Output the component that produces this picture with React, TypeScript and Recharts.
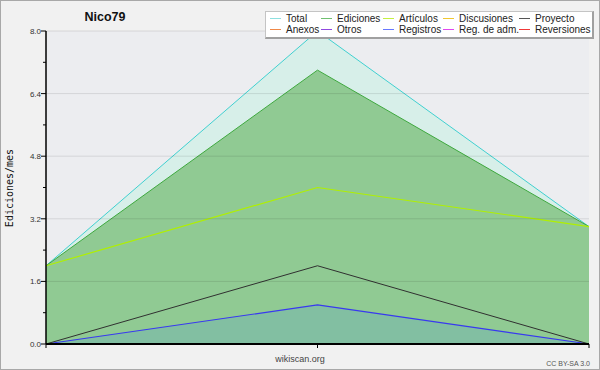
import React from 'react';
import {
  ComposedChart,
  Area,
  Line,
  XAxis,
  YAxis,
  CartesianGrid,
  ReferenceLine,
} from 'recharts';

// three monthly points, month labels are not shown on the chart
const months = ['Mes 1', 'Mes 2', 'Mes 3'];
const total = [2, 8, 3];
const ediciones = [2, 7, 3];
const articulos = [2, 4, 3];
const proyecto = [0, 2, 0];
const registros = [0, 1, 0];

const yTicks = [0, 0.8, 1.6, 2.4, 3.2, 4.0, 4.8, 5.6, 6.4, 7.2, 8.0];
const yMajor = [0, 1.6, 3.2, 4.8, 6.4, 8.0];

const legendNames = [
  'Total', 'Ediciones', 'Artículos', 'Discusiones', 'Proyecto',
  'Anexos', 'Otros', 'Registros', 'Reg. de adm.', 'Reversiones',
];
const legendColors = [
  '#8ee0e0', '#70c070', '#c4f040', '#f0c830', '#555555',
  '#f08848', '#9048e0', '#6878ff', '#e048f0', '#f03838',
];

const data = months.map((m, i) => ({
  month: m,
  total: total[i],
  ediciones: ediciones[i],
  articulos: articulos[i],
  proyecto: proyecto[i],
  registros: registros[i],
}));

const FONT = '"Liberation Sans", Arial, sans-serif';

const YTick = ({ x, y, payload }: any) => {
  const major = yMajor.some((v) => Math.abs(v - payload.value) < 1e-6);
  return (
    <g>
      <line x1={x - (major ? 5 : 3)} x2={x} y1={y} y2={y} stroke="#000" />
      {major && (
        <text x={x - 5} y={y + 3} textAnchor="end" fontSize={8} fill="#333" fontFamily={FONT}>
          {payload.value.toFixed(1)}
        </text>
      )}
    </g>
  );
};

const colLeft = [4, 55, 117, 177, 253];

export default function App() {
  return (
    <div style={{ position: 'absolute', left: 0, top: 0, width: 600, height: 370, background: '#f1f1f1' }}>
      <ComposedChart
        width={600}
        height={370}
        data={data}
        margin={{ top: 31, right: 11, bottom: 0, left: 0 }}
      >
        <CartesianGrid fill="#ecedf0" stroke="none" horizontal={false} vertical={false} />
        <XAxis
          dataKey="month"
          scale="point"
          height={26}
          axisLine={{ stroke: '#000', strokeWidth: 2 }}
          tickLine={{ stroke: '#000' }}
          tickSize={4}
          tick={() => <g />}
          interval={0}
        />
        <YAxis
          width={46}
          domain={[0, 8]}
          ticks={yTicks}
          interval={0}
          tickSize={0}
          tickMargin={0}
          tickLine={false}
          axisLine={{ stroke: '#000', strokeWidth: 1.5 }}
          tick={<YTick />}
        />
        <Area
          dataKey="total"
          type="linear"
          stroke="#40d0d0"
          fill="#d7efe9"
          fillOpacity={1}
          strokeWidth={1}
          isAnimationActive={false}
        />
        <Area
          dataKey="ediciones"
          type="linear"
          stroke="#3ea83e"
          fill="#90ca93"
          fillOpacity={1}
          strokeWidth={1}
          isAnimationActive={false}
        />
        <Line
          dataKey="articulos"
          type="linear"
          stroke="#b0f000"
          strokeWidth={1.2}
          dot={false}
          isAnimationActive={false}
        />
        <Line
          dataKey="proyecto"
          type="linear"
          stroke="#303030"
          strokeWidth={1}
          dot={false}
          isAnimationActive={false}
        />
        <Area
          dataKey="registros"
          type="linear"
          stroke="#3838f0"
          fill="#82bfa2"
          fillOpacity={1}
          strokeWidth={1.2}
          isAnimationActive={false}
        />
        {yMajor.slice(1).map((v) => (
          <ReferenceLine key={v} y={v} stroke="rgba(0,0,0,0.1)" strokeWidth={1} />
        ))}
      </ComposedChart>

      <svg
        width={600}
        height={370}
        style={{ position: 'absolute', left: 0, top: 0, pointerEvents: 'none' }}
      >
        <text x={105} y={21} textAnchor="middle" fontSize={12.5} fontWeight="bold" fontFamily={FONT} fill="#111">
          Nico79
        </text>
        <text
          transform="translate(13,188) rotate(-90)"
          textAnchor="middle"
          fontSize={10}
          fontFamily='"DejaVu Sans Mono", monospace'
          fill="#111"
        >
          Ediciones/mes
        </text>
        <text x={300} y={362} textAnchor="middle" fontSize={9} fontFamily={FONT} fill="#444">
          wikiscan.org
        </text>
        <text x={590} y={365.5} textAnchor="end" fontSize={7} fontFamily={FONT} fill="#555">
          CC BY-SA 3.0
        </text>
      </svg>

      <div
        style={{
          position: 'absolute',
          left: 265,
          top: 11,
          width: 326,
          height: 25,
          background: '#fff',
          borderTop: '1px solid #c4c4c4',
          borderLeft: '1px solid #c4c4c4',
          borderRight: '2px solid #a0a0a0',
          borderBottom: '2px solid #a0a0a0',
          fontFamily: FONT,
          fontSize: 10,
          color: '#222',
        }}
      >
        {legendNames.map((name, i) => {
          const col = i % 5;
          const row = Math.floor(i / 5);
          return (
            <div
              key={name}
              style={{ position: 'absolute', left: colLeft[col], top: 1 + row * 11, height: 11, display: 'flex', alignItems: 'center', whiteSpace: 'nowrap' }}
            >
              <span style={{ display: 'inline-block', width: 11, height: 1, background: legendColors[i], marginRight: 5 }} />
              <span style={{ lineHeight: '11px' }}>{name}</span>
            </div>
          );
        })}
      </div>

      <div
        style={{
          position: 'absolute',
          left: 0,
          top: 0,
          width: 600,
          height: 370,
          boxSizing: 'border-box',
          border: '1px solid #a8a8a8',
          pointerEvents: 'none',
        }}
      />
    </div>
  );
}
